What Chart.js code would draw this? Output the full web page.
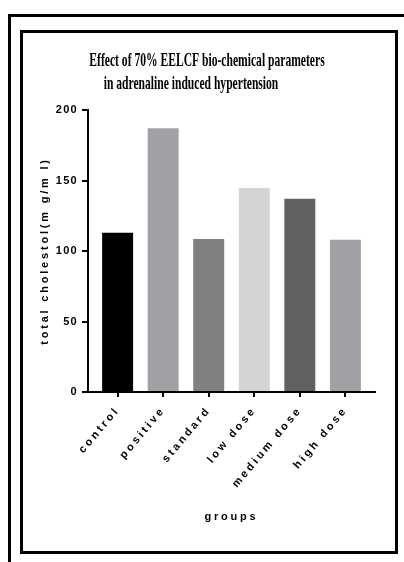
<!DOCTYPE html>
<html>
<head>
<meta charset="utf-8">
<script src="https://cdn.jsdelivr.net/npm/chart.js@4.4.1/dist/chart.umd.min.js"></script>
<style>
  html, body { margin: 0; padding: 0; background: #fff; overflow: hidden; }
  #page { position: relative; width: 404px; height: 562px; overflow: hidden; }
  .outer { position: absolute; left: 8px; top: 14px; width: 600px; height: 700px;
           border-left: 3px solid #000; border-top: 3px solid #000; }
  .inner { position: absolute; left: 20px; top: 30px; width: 378px; height: 524px;
           box-sizing: border-box; border: 3px solid #000; background: #fff; }
  #chart { position: absolute; left: 0; top: 0; }
</style>
</head>
<body>
<div id="page">
  <div class="outer"></div>
  <div class="inner"></div>
  <canvas id="chart" width="404" height="562"></canvas>
</div>
<script>
// данные с картинки
const groups = ['control', 'positive', 'standard', 'low dose', 'medium dose', 'high dose'];
const cholesterol = [113, 187, 108.5, 144.7, 137, 108];
const barColors = ['#000000', '#a1a0a5', '#808080', '#d4d4d4', '#616161', '#a1a0a5'];
const yTicks = [0, 50, 100, 150, 200];
const titleLines = ['Effect of 70% EELCF bio-chemical parameters', 'in adrenaline induced hypertension'];

const FONT = '"Liberation Sans", Arial, sans-serif';

// разрядка букв: подписи осей шире, цифры на оси Y плотнее
const spacingPlugin = {
    id: 'spacing',
    beforeDraw(chart) { chart.ctx.letterSpacing = '2.8px'; },
    afterDatasetsDraw(chart) { chart.ctx.letterSpacing = '1.3px'; },
    afterDraw(chart) {
        // заголовок узким Times, как в оригинале
        const ctx = chart.ctx;
        ctx.save();
        ctx.letterSpacing = '0px';
        ctx.fillStyle = '#000';
        ctx.font = 'bold 19px "Liberation Serif", "Times New Roman", serif';
        ctx.textAlign = 'center';
        ctx.textBaseline = 'alphabetic';
        const spots = [[207, 66], [191, 89]];
        titleLines.forEach((line, i) => {
            ctx.save();
            ctx.translate(spots[i][0], spots[i][1]);
            ctx.scale(0.61, 1);
            ctx.fillText(line, 0, 0);
            ctx.restore();
        });
        ctx.restore();
    }
};

new Chart(document.getElementById('chart'), {
    type: 'bar',
    data: {
        datasets: [{
            data: groups.map((g, i) => ({ x: i, y: cholesterol[i] })),
            backgroundColor: barColors,
            borderWidth: 0,
            barPercentage: 0.68,
            categoryPercentage: 1
        }]
    },
    options: {
        responsive: false,
        devicePixelRatio: 1,
        animation: false,
        layout: { padding: { left: 0, top: 110, right: 29, bottom: 0 } },
        plugins: { legend: { display: false }, tooltip: { enabled: false }, title: { display: false } },
        scales: {
            x: {
                type: 'linear',
                offset: false,
                min: -0.65,
                max: 5.65,
                afterBuildTicks(scale) { scale.ticks = groups.map((g, i) => ({ value: i })); },
                afterFit(scale) { scale.height = 170; },
                grid: { display: true, offset: false, drawOnChartArea: false, drawTicks: true, tickLength: 5, color: '#000', lineWidth: 2 },
                border: { display: true, color: '#000', width: 2 },
                ticks: {
                    callback: (v) => groups[v],
                    minRotation: 50,
                    maxRotation: 50,
                    autoSkip: false,
                    padding: 7,
                    color: '#000',
                    font: { family: FONT, size: 11, weight: 'bold' }
                },
                title: {
                    display: true,
                    text: 'groups',
                    color: '#000',
                    padding: { top: 0, bottom: 38 },
                    font: { family: FONT, size: 11, weight: 'bold' }
                }
            },
            y: {
                min: 0,
                max: 200,
                afterBuildTicks(scale) { scale.ticks = yTicks.map(v => ({ value: v })); },
                afterFit(scale) { scale.width = 88; },
                grid: { display: true, drawOnChartArea: false, drawTicks: true, tickLength: 6, color: '#000', lineWidth: 2 },
                border: { display: true, color: '#000', width: 2 },
                ticks: {
                    z: 1,
                    padding: 4,
                    color: '#000',
                    font: { family: FONT, size: 11, weight: 'bold' }
                },
                title: {
                    display: true,
                    text: 'total cholestol(m g/m l)',
                    color: '#000',
                    padding: { top: 38, bottom: 0 },
                    font: { family: FONT, size: 11, weight: 'bold' }
                }
            }
        }
    },
    plugins: [spacingPlugin]
});
</script>
</body>
</html>
